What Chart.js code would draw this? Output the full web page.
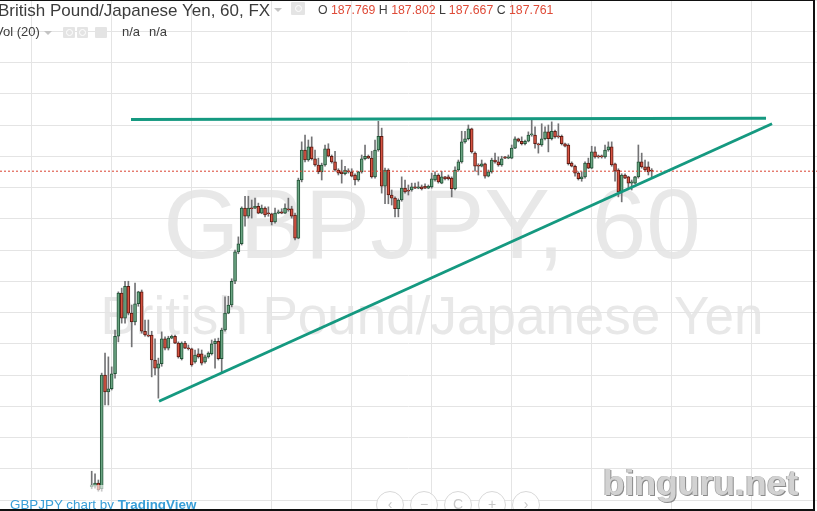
<!DOCTYPE html>
<html>
<head>
<meta charset="utf-8">
<script src="https://cdn.jsdelivr.net/npm/chart.js@4.4.0/dist/chart.umd.min.js"></script>
<style>
    body { margin: 0; background: #fff; }
    #wrap { position: relative; width: 817px; height: 511px; overflow: hidden; background: #fff; font-family: "Liberation Sans", Arial, sans-serif; }
    .wm { position: absolute; left: 0; width: 864px; text-align: center; color: #e8e8e8; white-space: nowrap; }
    .wm1 { top: 175px; font-size: 98px; line-height: 98px; }
    .wm2 { top: 289px; font-size: 53px; line-height: 53px; }
    #chart { position: absolute; left: 0; top: 0; }
    .txt { position: absolute; white-space: nowrap; }
    .title { left: -2px; top: 2px; font-size: 17px; line-height: 17px; color: #3c3c3c; }
    .ohlc { left: 318px; top: 4px; font-size: 12.3px; line-height: 12px; color: #3c3c3c; }
    .ohlc span { color: #df4b38; }
    .vol { left: -5px; top: 25px; font-size: 13px; line-height: 13px; color: #3c3c3c; }
    .caret { position: absolute; width: 0; height: 0; border-left: 4px solid transparent; border-right: 4px solid transparent; border-top: 4px solid #c4c4c4; }
    .ibox { position: absolute; background: #e4e4e4; border-radius: 1px; }
    .ibox i { position: absolute; left: 50%; top: 50%; width: 5px; height: 5px; margin: -3.5px 0 0 -3.5px; border: 1px solid #fff; border-radius: 50%; }
    .credit { left: 10px; top: 498px; font-size: 13.4px; line-height: 13px; color: #3a9fd8; }
    .credit b { font-weight: bold; }
    .fade { position: absolute; left: 86px; top: 485px; width: 18px; height: 26px; background: rgba(255,255,255,0.6); }
    .nav { position: absolute; top: 491px; width: 26px; height: 26px; border: 1px solid #d8d8d8; border-radius: 50%; background: rgba(255,255,255,0.85); color: #c8c8c8; font-size: 14px; line-height: 24px; text-align: center; }
    .site { left: 603px; top: 466px; font-size: 35.5px; line-height: 35px; font-weight: bold; color: #d2d2d2; text-shadow: 1px 1px 0 #8a8a8a, -1px 0 0 #b0b0b0; }
    .frame { position: absolute; left: -2px; top: 0; width: 817px; height: 511px; box-sizing: border-box; border-top: 1px solid #111; border-right: 2px solid #111; border-bottom: 2px solid #111; }
</style>
</head>
<body>
<div id="wrap">
    <div class="wm wm1">GBPJPY, 60</div>
    <div class="wm wm2">British Pound/Japanese Yen</div>
    <canvas id="chart" width="817" height="511"></canvas>

    <div class="txt title">British Pound/Japanese Yen, 60, FX</div>
    <div class="caret" style="left:274px; top:8px;"></div>
    <div class="ibox" style="left:291px; top:2px; width:14px; height:13px;"><i></i></div>
    <div class="txt ohlc">O <span>187.769</span> H <span>187.802</span> L <span>187.667</span> C <span>187.761</span></div>

    <div class="txt vol">Vol (20)</div>
    <div class="caret" style="left:44px; top:31px;"></div>
    <div class="ibox" style="left:63px; top:27px; width:12px; height:11px;"><i></i></div>
    <div class="ibox" style="left:77px; top:27px; width:11px; height:11px;"><i></i></div>
    <div class="ibox" style="left:95px; top:27px; width:12px; height:11px;"></div>
    <div class="txt vol" style="left:122px;">n/a</div>
    <div class="txt vol" style="left:149px;">n/a</div>

    <div class="fade"></div>
    <div class="txt credit">GBPJPY chart by <b>TradingView</b></div>

    <div class="nav" style="left:376px;">&lsaquo;</div>
    <div class="nav" style="left:410px;">&minus;</div>
    <div class="nav" style="left:444px;">C</div>
    <div class="nav" style="left:478px;">+</div>
    <div class="nav" style="left:512px;">&rsaquo;</div>

    <div class="txt site">binguru.net</div>
    <div class="frame"></div>
</div>

<script>
// ############## GBPJPY 60 min candles ##############

const opens = [
    182.71, 182.72, 182.77, 182.68, 184.50, 184.23, 184.28, 184.52, 185.12, 185.81,
    185.41, 185.92, 185.49, 185.35, 185.64, 185.83, 185.20, 185.14, 185.14, 184.74,
    184.61, 184.68, 185.08, 184.93, 185.09, 185.12, 185.01, 184.76, 185.01, 184.93,
    184.92, 184.71, 184.84, 184.84, 184.71, 184.79, 184.84, 185.00, 185.04, 184.76,
    185.22, 185.49, 185.62, 186.00, 186.47, 186.60, 187.17, 187.04, 187.17, 187.17,
    187.20, 187.09, 187.17, 187.09, 187.08, 186.95, 187.09, 187.11, 187.09, 187.16,
    187.16, 187.06, 186.69, 187.62, 188.10, 187.94, 188.15, 187.96, 187.86, 187.75,
    187.86, 188.12, 188.00, 187.91, 187.78, 187.75, 187.72, 187.76, 187.75, 187.70,
    187.62, 187.75, 187.96, 188.00, 187.97, 187.67, 188.10, 188.32, 187.52, 187.78,
    187.38, 187.33, 187.16, 187.30, 187.49, 187.46, 187.46, 187.51, 187.49, 187.51,
    187.52, 187.49, 187.51, 187.62, 187.70, 187.57, 187.67, 187.67, 187.65, 187.48,
    187.78, 187.91, 188.23, 188.28, 188.44, 188.05, 187.86, 187.84, 187.88, 187.68,
    187.75, 187.94, 187.91, 187.86, 187.99, 187.97, 187.97, 188.13, 188.28, 188.24,
    188.20, 188.24, 188.34, 188.34, 188.20, 188.18, 188.28, 188.39, 188.28, 188.40,
    188.32, 188.32, 188.20, 188.18, 187.89, 187.84, 187.73, 187.64, 187.67, 187.89,
    187.81, 188.07, 188.00, 188.00, 187.99, 188.10, 188.15, 187.88, 187.78, 187.43,
    187.70, 187.67, 187.57, 187.57, 187.67, 187.91, 187.83, 187.83, 187.769
];

const highs = [
    182.96, 182.92, 182.82, 184.53, 184.85, 184.79, 184.63, 185.22, 185.83, 185.89,
    186.00, 186.00, 185.62, 185.97, 185.84, 185.86, 185.38, 185.38, 185.20, 185.08,
    184.77, 185.19, 185.11, 185.12, 185.14, 185.14, 185.03, 185.03, 185.04, 184.98,
    184.93, 184.90, 184.92, 184.90, 184.82, 184.87, 185.06, 185.08, 185.09, 185.25,
    185.75, 185.76, 186.04, 186.50, 186.71, 187.19, 187.36, 187.36, 187.30, 187.33,
    187.25, 187.22, 187.19, 187.19, 187.09, 187.17, 187.14, 187.16, 187.24, 187.33,
    187.20, 187.09, 187.65, 188.23, 188.34, 188.26, 188.31, 188.10, 187.97, 187.89,
    188.18, 188.20, 188.02, 188.08, 187.80, 187.94, 187.84, 187.80, 187.80, 187.72,
    187.76, 188.02, 188.18, 188.02, 188.08, 188.26, 188.56, 188.45, 187.81, 187.80,
    187.46, 187.35, 187.32, 187.67, 187.62, 187.54, 187.57, 187.57, 187.59, 187.54,
    187.56, 187.54, 187.73, 187.75, 187.72, 187.76, 187.68, 187.70, 187.67, 187.83,
    187.94, 188.40, 188.40, 188.50, 188.45, 188.07, 187.88, 187.94, 187.89, 187.78,
    187.97, 188.05, 187.99, 188.00, 188.00, 188.02, 188.18, 188.31, 188.29, 188.31,
    188.26, 188.39, 188.60, 188.47, 188.21, 188.52, 188.47, 188.50, 188.55, 188.42,
    188.52, 188.34, 188.21, 188.20, 187.91, 187.86, 187.75, 187.75, 187.91, 187.97,
    188.16, 188.15, 188.02, 188.02, 188.18, 188.23, 188.23, 187.89, 187.80, 187.72,
    187.72, 187.68, 187.62, 187.68, 188.18, 188.05, 187.94, 187.91, 187.802
];

const lows = [
    182.68, 182.69, 182.64, 182.64, 184.02, 184.02, 184.26, 184.45, 185.03, 185.33,
    185.33, 185.46, 184.95, 185.30, 185.60, 185.17, 185.12, 185.11, 184.47, 184.50,
    184.13, 184.64, 184.90, 184.90, 185.08, 185.00, 184.77, 184.74, 184.92, 184.90,
    184.64, 184.69, 184.77, 184.66, 184.69, 184.77, 184.82, 184.61, 184.74, 184.55,
    185.20, 185.48, 185.59, 185.96, 186.44, 186.58, 186.88, 187.01, 187.01, 187.16,
    187.08, 187.08, 187.03, 187.04, 186.90, 186.93, 187.08, 187.08, 187.08, 187.12,
    187.01, 186.66, 186.68, 187.59, 187.91, 187.92, 187.94, 187.84, 187.72, 187.62,
    187.84, 187.99, 187.89, 187.76, 187.70, 187.57, 187.70, 187.73, 187.67, 187.54,
    187.60, 187.73, 187.94, 187.96, 187.65, 187.65, 188.08, 187.41, 187.24, 187.24,
    187.22, 187.03, 187.03, 187.28, 187.41, 187.38, 187.44, 187.48, 187.48, 187.46,
    187.48, 187.48, 187.49, 187.60, 187.57, 187.56, 187.62, 187.62, 187.35, 187.46,
    187.76, 187.89, 188.21, 188.26, 188.05, 187.76, 187.70, 187.83, 187.65, 187.67,
    187.73, 187.89, 187.84, 187.84, 187.96, 187.96, 187.96, 188.12, 188.23, 188.18,
    188.18, 188.23, 188.32, 188.13, 188.05, 188.16, 188.26, 188.07, 188.26, 188.29,
    188.29, 188.18, 188.15, 187.86, 187.83, 187.68, 187.62, 187.60, 187.65, 187.80,
    187.80, 187.97, 187.97, 187.97, 187.97, 188.08, 187.84, 187.60, 187.35, 187.27,
    187.64, 187.49, 187.46, 187.56, 187.65, 187.81, 187.76, 187.70, 187.667
];

const closes = [
    182.74, 182.77, 182.66, 184.50, 184.23, 184.28, 184.52, 185.12, 185.81, 185.41,
    185.92, 185.49, 185.35, 185.64, 185.83, 185.20, 185.14, 185.12, 184.74, 184.61,
    184.68, 185.08, 184.93, 185.09, 185.12, 185.01, 184.79, 185.01, 184.93, 184.92,
    184.66, 184.82, 184.79, 184.69, 184.79, 184.85, 185.00, 185.04, 184.76, 185.22,
    185.49, 185.62, 186.00, 186.47, 186.60, 187.17, 187.04, 187.17, 187.16, 187.20,
    187.09, 187.17, 187.06, 187.08, 186.95, 187.09, 187.11, 187.09, 187.17, 187.14,
    187.04, 186.69, 187.62, 188.10, 187.94, 188.15, 187.96, 187.86, 187.75, 187.86,
    188.12, 188.00, 187.91, 187.78, 187.73, 187.72, 187.78, 187.75, 187.68, 187.62,
    187.75, 187.96, 188.00, 187.97, 187.67, 188.10, 188.32, 187.52, 187.78, 187.38,
    187.33, 187.16, 187.30, 187.49, 187.43, 187.44, 187.51, 187.49, 187.51, 187.48,
    187.49, 187.52, 187.64, 187.70, 187.59, 187.67, 187.64, 187.64, 187.48, 187.78,
    187.91, 188.23, 188.28, 188.44, 188.07, 187.84, 187.84, 187.88, 187.68, 187.75,
    187.94, 187.91, 187.86, 187.96, 187.97, 187.99, 188.13, 188.28, 188.24, 188.20,
    188.24, 188.34, 188.36, 188.20, 188.18, 188.28, 188.39, 188.28, 188.40, 188.31,
    188.31, 188.20, 188.16, 187.88, 187.84, 187.73, 187.64, 187.67, 187.89, 187.81,
    188.07, 187.99, 187.99, 187.99, 188.10, 188.15, 187.86, 187.76, 187.43, 187.70,
    187.65, 187.57, 187.59, 187.67, 187.91, 187.83, 187.78, 187.75, 187.761
];

// candle number (hours from first bar)
const hours = opens.map((v, i) => i);

// drawings (hour, price)
const resistanceX = [11.8, 202.3];
const resistanceY = [188.59, 188.61];
const supportX = [20.2, 204.1];
const supportY = [184.08, 188.52];

// price grid + day grid
const priceTicks = [182.5, 183, 183.5, 184, 184.5, 185, 185.5, 186, 186.5, 187, 187.5, 188, 188.5, 189, 189.5, 190, 190.5];
const dayTicks = [-18.2, 5.8, 29.8, 53.8, 77.8, 101.8, 125.8, 149.8, 173.8, 197.8];

const xMin = -27.51;
const xMax = 217.59;
const yMin = 182.324;
const yMax = 190.5;

const upFill = "#6ba583";
const upLine = "#225437";
const downFill = "#d75442";
const downLine = "#5b1a13";
const wickColor = "#737375";
const trendColor = "rgb(21, 153, 128)";
const gridColor = "#e4e4e4";

document.addEventListener("DOMContentLoaded", function () {
    const isUp = hours.map((h, i) => closes[i] >= opens[i]);
    const lastClose = closes[closes.length - 1];

    const ctx = document.getElementById("chart").getContext("2d");
    new Chart(ctx, {
        type: "bar",
        data: {
            datasets: [
                {
                    label: "wicks",
                    data: hours.map((h, i) => ({ x: h, y: [lows[i], highs[i]] })),
                    backgroundColor: wickColor,
                    barThickness: 1,
                    grouped: false,
                    minBarLength: 1,
                    order: 4,
                },
                {
                    label: "bodies",
                    data: hours.map((h, i) => ({ x: h, y: [opens[i], closes[i]] })),
                    backgroundColor: isUp.map((u) => (u ? upFill : downFill)),
                    borderColor: isUp.map((u) => (u ? upLine : downLine)),
                    borderWidth: 1,
                    borderSkipped: false,
                    barThickness: 3,
                    grouped: false,
                    minBarLength: 1,
                    order: 3,
                },
                {
                    type: "line",
                    label: "last",
                    data: [
                        { x: xMin, y: lastClose },
                        { x: xMax, y: lastClose },
                    ],
                    borderColor: "#d9412f",
                    borderWidth: 1,
                    borderDash: [2, 2],
                    pointRadius: 0,
                    order: 2,
                },
                {
                    type: "line",
                    label: "resistance",
                    data: resistanceX.map((x, i) => ({ x: x, y: resistanceY[i] })),
                    borderColor: trendColor,
                    borderWidth: 3,
                    pointRadius: 0,
                    order: 1,
                },
                {
                    type: "line",
                    label: "support",
                    data: supportX.map((x, i) => ({ x: x, y: supportY[i] })),
                    borderColor: trendColor,
                    borderWidth: 3,
                    pointRadius: 0,
                    order: 1,
                },
            ],
        },
        options: {
            responsive: false,
            animation: false,
            events: [],
            layout: { padding: 0 },
            plugins: {
                legend: { display: false },
                tooltip: { enabled: false },
            },
            scales: {
                x: {
                    type: "linear",
                    min: xMin,
                    max: xMax,
                    offset: false,
                    afterBuildTicks: function (scale) {
                        scale.ticks = dayTicks.map((v) => ({ value: v }));
                    },
                    ticks: { display: false },
                    grid: { color: gridColor, drawTicks: false, offset: false },
                    border: { display: false },
                },
                y: {
                    type: "linear",
                    min: yMin,
                    max: yMax,
                    afterBuildTicks: function (scale) {
                        scale.ticks = priceTicks.map((v) => ({ value: v }));
                    },
                    ticks: { display: false },
                    grid: { color: gridColor, drawTicks: false },
                    border: { display: false },
                },
            },
        },
    });
});
</script>
</body>
</html>
